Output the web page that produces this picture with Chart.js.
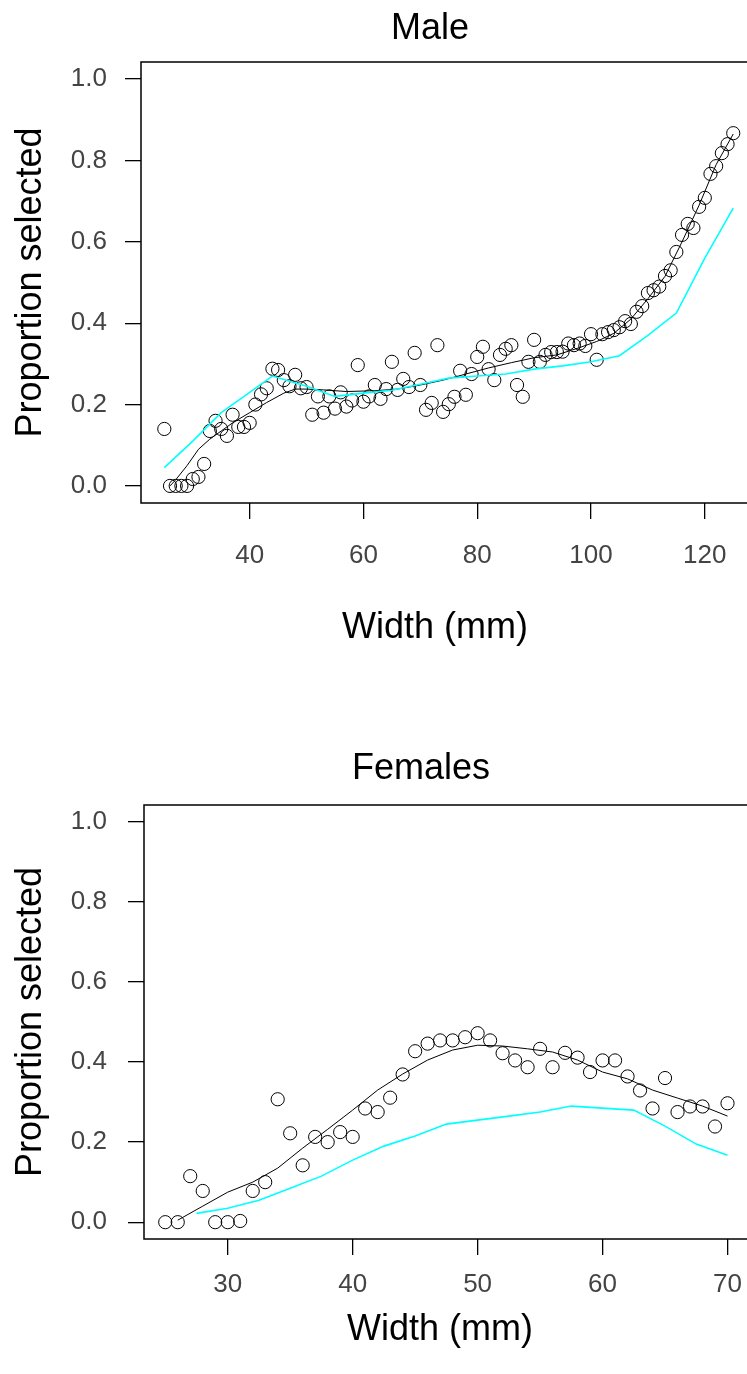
<!DOCTYPE html>
<html>
<head>
<meta charset="utf-8">
<script src="https://cdn.jsdelivr.net/npm/chart.js@4.4.1/dist/chart.umd.min.js"></script>
<style>
  html, body { margin: 0; padding: 0; background: #fff; overflow: hidden; width: 747px; height: 1374px; }
  canvas { position: absolute; left: 0; }
  #maleChart { top: 0; }
  #femaleChart { top: 740px; }
</style>
</head>
<body>
<canvas id="maleChart" width="790" height="700"></canvas>
<canvas id="femaleChart" width="790" height="634"></canvas>
<script>
// ---- Male: observed proportions ----
const maleWidth = [25,26,27,28,29,30,31,32,33,34,35,36,37,38,39,40,41,42,43,44,45,46,47,48,49,50,
  51,52,53,54,55,56,57,58,59,60,61,62,63,64,65,66,67,68,69,70,71,72,73,74,75,76,77,78,79,80,
  81,82,83,84,85,86,87,88,89,90,91,92,93,94,95,96,97,98,99,100,101,102,103,104,105,106,107,108,
  109,110,111,112,113,114,115,116,117,118,119,120,121,122,123,124,125];
const maleProp = [0.14,0,0,0,0,0.017,0.022,0.054,0.135,0.16,0.14,0.123,0.175,0.145,0.145,0.155,0.20,0.225,0.24,0.288,0.285,0.26,0.245,0.273,0.24,0.243,
  0.175,0.22,0.18,0.22,0.19,0.23,0.195,0.21,0.297,0.207,0.22,0.248,0.214,0.238,0.305,0.236,0.263,0.243,0.327,0.248,0.187,0.204,0.346,0.182,0.201,0.219,0.283,0.224,0.275,0.317,
  0.342,0.287,0.26,0.322,0.337,0.346,0.248,0.219,0.305,0.359,0.305,0.322,0.329,0.329,0.33,0.35,0.346,0.35,0.344,0.373,0.31,0.373,0.378,0.383,0.39,0.405,0.398,0.428,
  0.442,0.474,0.481,0.49,0.516,0.53,0.575,0.617,0.644,0.634,0.686,0.708,0.767,0.786,0.818,0.84,0.867];

// Male smooth fit (black) and model curve (cyan)
const maleFitX = [26,27,29,31,33,35,37,40,43,46,48,50,53,57,62,66,70,74,78,82,86,90,94,98,101,104,107,110,113,116,119,122,125];
const maleFitY = [0,0.015,0.05,0.09,0.115,0.135,0.155,0.18,0.205,0.228,0.238,0.238,0.236,0.232,0.234,0.238,0.248,0.26,0.275,0.29,0.303,0.315,0.322,0.34,0.355,0.375,0.41,0.46,0.515,0.6,0.69,0.79,0.865];
const maleModelX = [25,30,35,40,44,50,55,60,65,70,75,80,85,90,95,100,105,110,115,120,125];
const maleModelY = [0.045,0.11,0.18,0.23,0.27,0.245,0.22,0.228,0.235,0.25,0.265,0.27,0.275,0.287,0.295,0.305,0.32,0.37,0.425,0.56,0.683];
const maleTicks = [40,60,80,100,120];

// ---- Females ----
const femaleWidth = [25,26,27,28,29,30,31,32,33,34,35,36,37,38,39,40,41,42,43,44,45,46,47,48,49,50,
  51,52,53,54,55,56,57,58,59,60,61,62,63,64,65,66,67,68,69,70];
const femaleProp = [0,0,0.115,0.078,0,0,0.003,0.078,0.1,0.307,0.222,0.142,0.213,0.2,0.225,0.213,0.284,0.275,0.311,0.369,0.427,0.446,0.454,0.454,0.462,0.472,
  0.454,0.422,0.404,0.387,0.433,0.387,0.423,0.411,0.375,0.404,0.404,0.364,0.329,0.284,0.36,0.275,0.289,0.289,0.239,0.297];
const femaleFitX = [26,28,30,32,34,36,38,40,42,44,46,48,50,52,54,56,58,60,62,64,66,68,70];
const femaleFitY = [0.005,0.04,0.075,0.1,0.135,0.185,0.232,0.28,0.33,0.37,0.405,0.43,0.442,0.44,0.433,0.425,0.405,0.375,0.358,0.33,0.31,0.29,0.265];
const femaleModelX = [27.5,30,32.5,35,37.5,40,42.5,45,47.5,50,52.5,55,57.5,60,62.5,65,67.5,70];
const femaleModelY = [0.022,0.035,0.055,0.085,0.115,0.155,0.19,0.215,0.245,0.255,0.265,0.275,0.29,0.285,0.28,0.24,0.195,0.167];
const femaleTicks = [30,40,50,60,70];

const yTicks = [0, 0.2, 0.4, 0.6, 0.8, 1.0];

const FONT = "'Liberation Sans', Arial, Helvetica, sans-serif";

function pairs(xs, ys) {
  return xs.map((x, i) => ({ x, y: ys[i] }));
}

// R-style box around the plot region, plus main title and x label
const panelPlugin = {
  id: "panel",
  afterDraw(chart, args, opts) {
    const { ctx, chartArea: a } = chart;
    ctx.save();
    ctx.strokeStyle = "#000";
    ctx.lineWidth = 1.5;
    ctx.strokeRect(a.left, a.top, a.right - a.left, a.bottom - a.top);

    ctx.fillStyle = "#000";
    ctx.textAlign = "center";
    ctx.textBaseline = "middle";
    ctx.font = `36px ${FONT}`;
    ctx.fillText(opts.title, opts.titleX, opts.titleY);
    ctx.fillText("Width (mm)", opts.xlabX, opts.xlabY);
    ctx.restore();
  },
};

function makePanel(el, cfg) {
  return new Chart(el, {
    type: "scatter",
    plugins: [panelPlugin],
    data: {
      datasets: [
        {
          data: pairs(cfg.modelX, cfg.modelY),
          showLine: true,
          borderColor: "#00ffff",
          borderWidth: 1.6,
          pointRadius: 0,
        },
        {
          data: pairs(cfg.fitX, cfg.fitY),
          showLine: true,
          borderColor: "#000",
          borderWidth: 1,
          pointRadius: 0,
        },
        {
          data: pairs(cfg.obsX, cfg.obsY),
          showLine: false,
          pointStyle: "circle",
          pointRadius: 6.6,
          borderColor: "#000",
          borderWidth: 1,
          backgroundColor: "rgba(0,0,0,0)",
        },
      ],
    },
    options: {
      responsive: false,
      animation: false,
      devicePixelRatio: 1,
      layout: { padding: { left: 0, right: cfg.padRight, top: cfg.padTop, bottom: 0 } },
      plugins: {
        legend: { display: false },
        tooltip: { enabled: false },
        title: { display: false },
        panel: {
          title: cfg.title, titleX: cfg.titleX, titleY: 29,
          xlabX: cfg.xlabX, xlabY: cfg.xlabY,
        },
      },
      scales: {
        x: {
          type: "linear",
          min: cfg.xMin,
          max: cfg.xMax,
          afterBuildTicks: (axis) => { axis.ticks = cfg.xTicks.map((v) => ({ value: v })); },
          afterFit: (axis) => { axis.height = cfg.xAxisHeight; },
          ticks: {
            color: "#444",
            font: { family: FONT, size: 26 },
            padding: cfg.xTickPad,
            maxRotation: 0,
            autoSkip: false,
          },
          grid: { drawOnChartArea: false, drawTicks: true, tickLength: 16, color: "#000", lineWidth: 1.3 },
          border: { display: false },
        },
        y: {
          type: "linear",
          min: -0.042,
          max: 1.042,
          afterBuildTicks: (axis) => { axis.ticks = yTicks.map((v) => ({ value: v })); },
          afterFit: (axis) => { axis.width = cfg.yAxisWidth; },
          ticks: {
            color: "#444",
            font: { family: FONT, size: 26 },
            padding: cfg.yTickPad,
            callback: (v) => Number(v).toFixed(1),
          },
          grid: { drawOnChartArea: false, drawTicks: true, tickLength: 16, color: "#000", lineWidth: 1.3 },
          border: { display: false },
          title: {
            display: true,
            text: "Proportion selected",
            color: "#000",
            font: { family: FONT, size: 36 },
            padding: { top: 9, bottom: 0 },
          },
        },
      },
    },
  });
}

makePanel(document.getElementById("maleChart"), {
  title: "Male", titleX: 430,
  xlabX: 435, xlabY: 628,
  obsX: maleWidth, obsY: maleProp,
  fitX: maleFitX, fitY: maleFitY,
  modelX: maleModelX, modelY: maleModelY,
  xTicks: maleTicks,
  xMin: 20.9, xMax: 129,
  padRight: 34, padTop: 62,
  yAxisWidth: 141, yTickPad: 18,
  xAxisHeight: 197, xTickPad: 21,
});

makePanel(document.getElementById("femaleChart"), {
  title: "Females", titleX: 421,
  xlabX: 440, xlabY: 590,
  obsX: femaleWidth, obsY: femaleProp,
  fitX: femaleFitX, fitY: femaleFitY,
  modelX: femaleModelX, modelY: femaleModelY,
  xTicks: femaleTicks,
  xMin: 23.3, xMax: 71.8,
  padRight: 40, padTop: 65,
  yAxisWidth: 144, yTickPad: 21,
  xAxisHeight: 135, xTickPad: 14,
});
</script>
</body>
</html>
